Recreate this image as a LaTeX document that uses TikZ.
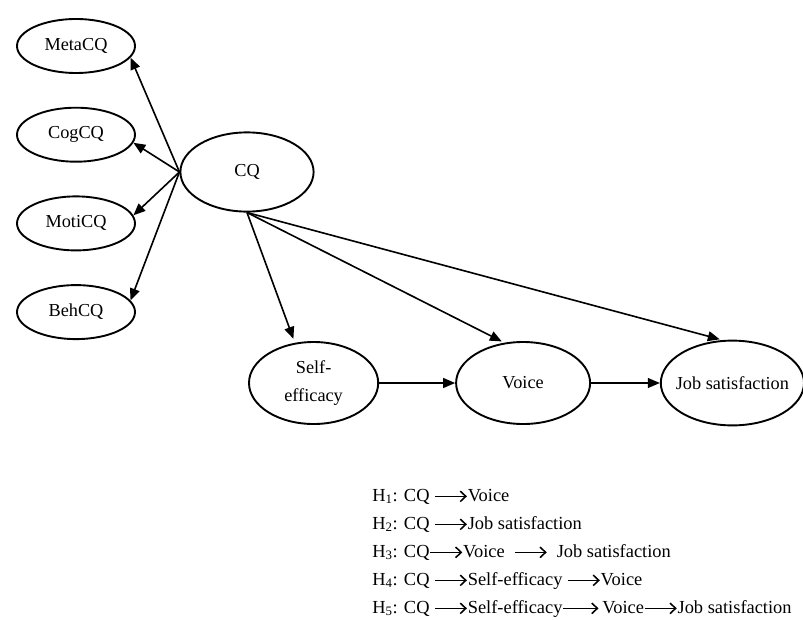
\documentclass[tikz,border=0pt]{standalone}
\usepackage{fontspec}
\setmainfont{Liberation Serif}
\usepackage{tikz}
\usetikzlibrary{positioning,arrows.meta,shapes.geometric}
\newcommand{\hyparrow}[1][0.8cm]{\tikz[baseline=-0.55ex]\draw[line width=1.1pt, -{Straight Barb[length=4pt,width=7.5pt]}] (0,0) -- (#1,0);}

\begin{document}
\begin{tikzpicture}[
      every node/.style={align=center, font=\fontsize{13}{20.5}\selectfont},
      factor/.style={draw, ellipse, line width=1.35pt, inner sep=0pt, minimum width=2.95cm, minimum height=1.35cm},
      construct/.style={draw, ellipse, line width=1.35pt, inner sep=0pt},
      arrow/.style={line width=1.15pt, -{Triangle[length=8.5pt,width=7pt]}},
      hypothesis/.style={anchor=base west, inner sep=0pt, font=\fontsize{13.1}{16}\selectfont}
    ]
      \useasboundingbox (0,0) rectangle (20.075,-15.475);
      \node[construct, minimum width=3.33cm, minimum height=1.98cm] (cq) at (6.175,-4.3) {CQ};
      % Dimensions
      \node[factor] (meta) at (1.9,-1.15) {MetaCQ};
      \node[factor, below=0.82cm of meta] (cog) {CogCQ};
      \node[factor, below=0.82cm of cog] (moti) {MotiCQ};
      \node[factor, below=0.82cm of moti] (beh) {BehCQ};
      % Outcomes
      \node[construct, minimum width=3.23cm, minimum height=2.05cm] (self) at (7.84,-9.575) {Self-\\efficacy};
      \node[construct, minimum width=3.35cm, minimum height=2.05cm, right=1.9cm of self] (voice) {Voice};
      \node[construct, minimum width=3.58cm, minimum height=2.12cm, right=1.72cm of voice] (job) {\makebox[2cm]{Job satisfaction}};
      \foreach \t/\a in {meta/-12, cog/-8, moti/8, beh/12}
        \draw[arrow] (cq.west) -- (\t.\a);
      \draw[arrow, shorten >=3pt] (cq.south) -- (self.115);
      \draw[arrow, shorten >=2pt] (cq.south) -- (voice.115);
      \draw[arrow, shorten >=2pt] (cq.south) -- (job.103);
      \draw[arrow] (self) -- (voice);
      \draw[arrow] (voice) -- (job);
      % Hypotheses
      \foreach \i/\hyp in {1/{CQ \hyparrow Voice},
                           2/{CQ \hyparrow Job satisfaction},
                           3/{CQ\hyparrow Voice~ \hyparrow~ Job satisfaction},
                           4/{CQ \hyparrow Self-efficacy \hyparrow Voice},
                           5/{CQ \hyparrow Self-efficacy\hyparrow[0.88cm]\,Voice\hyparrow Job satisfaction}}
        \node[hypothesis] (h\i) at (9.3,{-12.525-0.7*(\i-1)}) {H\textsubscript{\i}: \hyp};
    \end{tikzpicture}
\end{document}
